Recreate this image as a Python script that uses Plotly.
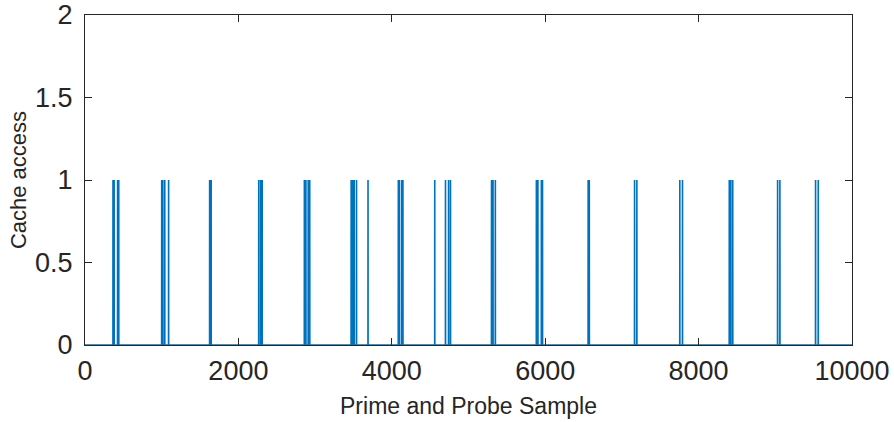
import numpy as np
import plotly.graph_objects as go

# Sample indices at which a cache access (value 1) was observed
spike_samples = [
    365, 380, 425, 440,
    1000, 1015, 1040, 1090,
    1625, 1645,
    2265, 2290, 2310,
    2860, 2880, 2910, 2930,
    3470, 3490, 3510, 3540,
    3690,
    4085, 4100, 4130, 4145,
    4560,
    4700, 4740, 4765,
    5300, 5320, 5350,
    5885, 5905, 5950, 5965,
    6560, 6575,
    7165, 7195,
    7755, 7790,
    8400, 8420, 8445,
    9030, 9060,
    9525, 9560,
]
n_samples = 10000
x_ticks = [0, 2000, 4000, 6000, 8000, 10000]
y_ticks = [0, 0.5, 1, 1.5, 2]
y_tick_labels = ["0", "0.5", "1", "1.5", "2"]

x = np.arange(n_samples + 1)
y = np.zeros(n_samples + 1)
y[spike_samples] = 1

FONT = "Liberation Sans, Arial, sans-serif"

fig = go.Figure()
fig.add_trace(go.Scatter(
    x=x, y=y, mode="lines",
    line=dict(color="#0072BD", width=1.6, simplify=False),
    showlegend=False, hoverinfo="skip",
))

axis_common = dict(
    showline=True, linecolor="#262626", linewidth=1, mirror="ticks",
    ticks="inside", ticklen=7, tickcolor="#262626", tickwidth=1,
    showgrid=False, zeroline=False, automargin=False,
    tickfont=dict(family=FONT, size=27, color="#262626"),
)

fig.update_layout(
    width=894, height=422,
    margin=dict(l=85, r=42, t=15, b=77),
    paper_bgcolor="white", plot_bgcolor="white",
    xaxis=dict(
        range=[0, n_samples], tickvals=x_ticks, ticktext=[str(t) for t in x_ticks],
        title=dict(text="Prime and Probe Sample",
                   font=dict(family=FONT, size=23, color="#262626"),
                   standoff=12),
        ticklabelstandoff=2,
        **axis_common,
    ),
    yaxis=dict(
        range=[0, 2], tickvals=y_ticks, ticktext=y_tick_labels,
        title=dict(text="Cache access",
                   font=dict(family=FONT, size=22, color="#262626"),
                   standoff=2),
        ticklabelstandoff=6,
        **axis_common,
    ),
)

fig.write_html("out.html")
